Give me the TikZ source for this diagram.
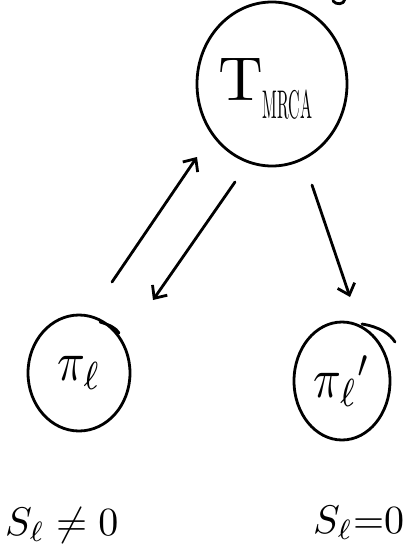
\documentclass[tikz,border=0pt]{standalone}
\usepackage{graphicx}
\usetikzlibrary{arrows.meta,shapes.geometric}
\tikzset{
  ink/.style={line width=2.8pt, line cap=round, line join=round},
  bubble/.style={ink, draw, ellipse, inner sep=0pt},
  arr/.style={ink, -{Straight Barb[length=10pt,width=18pt,line width=2.8pt]}},
  lbl/.style={inner sep=0pt, anchor=base west},
}
\begin{document}
\begin{tikzpicture}[x=1pt, y=-1pt]
  \useasboundingbox (0,0) rectangle (409,560);
  % circles
  \node[bubble, minimum width=150pt, minimum height=164pt] (tm) at (272,84) {};
  \node[bubble, minimum width=102pt, minimum height=116pt] (pi) at (79,373)
    {\scalebox{4.6}[5.6]{$\pi_\ell$}};
  \node[bubble, minimum width=96pt, minimum height=118pt] (pe) at (342,381)
    {\scalebox{4.6}[5.6]{$\pi_\ell{}^{\prime}$}};
  % loose stroke ends where the circles were closed
  \draw[ink] (100,322) .. controls (110,325) and (116,328) .. (119,333);
  \draw[ink] (362,324) .. controls (380,327) and (390,334) .. (395,342);
  % stroke cut off at the top edge
  \draw[ink] (345,-1) .. controls (344,5) and (336,5) .. (333,1);
  % labels
  \node[lbl] (tmlabel) at (218,100)
    {\scalebox{6.2}{$\mathrm{T}$}\raisebox{-18pt}{\scalebox{1.6}[4]{MRCA}}};
  \node[lbl] (sneq) at (5,535) {\scalebox{4}{$S_\ell \neq 0$}};
  \node[lbl] (seq) at (313,533) {\scalebox{4}{$S_\ell{=}0$}};
  % arrows
  \draw[arr] ([shift={(33,-91)}]pi.center) -- ([shift={(-75,73)}]tm.center);
  \draw[arr] ([shift={(-37,98)}]tm.center) -- ([shift={(74,-73)}]pi.center);
  \draw[arr] ([shift={(40,101)}]tm.center) -- ([shift={(8,-84)}]pe.center);
\end{tikzpicture}
\end{document}
